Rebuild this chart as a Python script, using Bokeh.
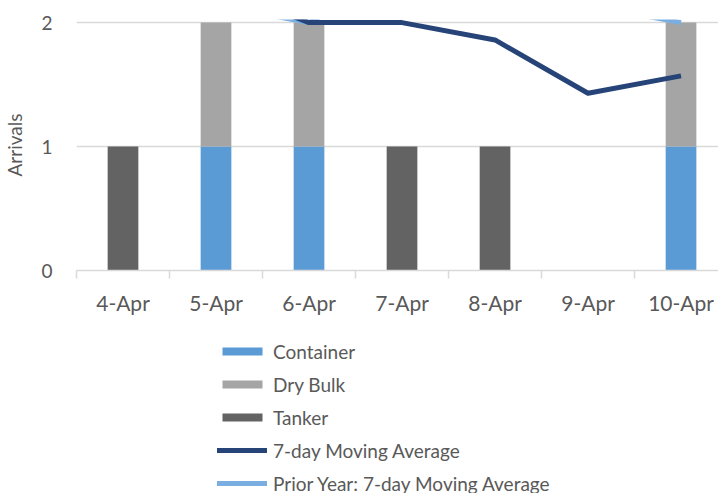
from bokeh.plotting import figure
from bokeh.layouts import column
from bokeh.models import Range1d, FixedTicker, Legend, LegendItem, ColumnDataSource
from bokeh.embed import file_html
from bokeh.resources import INLINE

dates = ["4-Apr", "5-Apr", "6-Apr", "7-Apr", "8-Apr", "9-Apr", "10-Apr"]
container = [0, 1, 1, 0, 0, 0, 1]
dry_bulk = [0, 1, 1, 0, 0, 0, 1]
tanker = [1, 0, 0, 1, 1, 0, 0]
moving_avg = [2.43, 2.29, 2.0, 2.0, 1.86, 1.43, 1.57]
prior_year = [2.29, 2.14, 2.0, 2.43, 2.43, 2.14, 2.0]

FONT = "Lato"
TXT = "#595959"
COLORS = ["#5b9bd5", "#a5a5a5", "#636363"]
MA_COLOR = "#264478"
PY_COLOR = "#7aaee0"

idx = list(range(len(dates)))
src = ColumnDataSource(dict(x=idx, Container=container, DryBulk=dry_bulk, Tanker=tanker,
                            ma=moving_avg, py=prior_year))

p = figure(frame_width=642, frame_height=251, x_range=Range1d(-0.5, 6.403), y_range=Range1d(0, 2.025),
           output_backend="svg", toolbar_location=None,
           min_border_left=69, min_border_right=0, min_border_top=19, min_border_bottom=60)
p.outline_line_color = None

p.vbar_stack(["Container", "DryBulk", "Tanker"], x="x", width=0.33, source=src,
             color=COLORS, line_color=None)
p.line("x", "py", source=src, line_color=PY_COLOR, line_width=5, line_join="round")
p.line("x", "ma", source=src, line_color=MA_COLOR, line_width=5, line_join="round")

# axes
p.xaxis.ticker = FixedTicker(ticks=idx, minor_ticks=[i - 0.5 for i in range(len(dates) + 1)])
p.xaxis.major_label_overrides = {i: d for i, d in enumerate(dates)}
p.xaxis.major_tick_line_color = None
p.xaxis.major_tick_out = 0
p.xaxis.major_tick_in = 0
p.xaxis.minor_tick_line_color = "#d9d9d9"
p.xaxis.minor_tick_line_width = 1.5
p.xaxis.minor_tick_out = 8
p.xaxis.minor_tick_in = 0
p.xaxis.axis_line_color = "#d9d9d9"
p.xaxis.axis_line_width = 1.5
p.xaxis.major_label_text_font = FONT
p.xaxis.major_label_text_font_size = "21px"
p.xaxis.major_label_text_color = TXT
p.xaxis.major_label_standoff = 11

p.yaxis.ticker = FixedTicker(ticks=[0, 1, 2])
p.yaxis.axis_line_color = None
p.yaxis.major_tick_line_color = None
p.yaxis.major_tick_out = 0
p.yaxis.major_tick_in = 0
p.yaxis.minor_tick_line_color = None
p.yaxis.major_label_standoff = 24
p.yaxis.major_label_text_font = FONT
p.yaxis.major_label_text_font_size = "19px"
p.yaxis.major_label_text_color = TXT
p.yaxis.axis_label = "Arrivals"
p.yaxis.axis_label_text_font = FONT
p.yaxis.axis_label_text_font_size = "19px"
p.yaxis.axis_label_text_font_style = "normal"
p.yaxis.axis_label_text_color = TXT
p.yaxis.axis_label_standoff = 12

p.xgrid.grid_line_color = None
p.ygrid.grid_line_color = "#d9d9d9"
p.ygrid.grid_line_width = 1.5

# legend panel (separate figure sharing the same data; its glyphs are out of view)
lg = figure(width=711, height=163, x_range=Range1d(100, 101), y_range=Range1d(100, 101),
            output_backend="svg", toolbar_location=None,
            x_axis_location=None, y_axis_location=None,
            min_border_left=0, min_border_right=0, min_border_top=0, min_border_bottom=0)
lg.outline_line_color = None
lg.grid.visible = False
lr = lg.vbar_stack(["Container", "DryBulk", "Tanker"], x="x", width=0.33, source=src,
                   color=COLORS, line_color=None)
ll2 = lg.line("x", "py", source=src, line_color=PY_COLOR, line_width=5, line_cap="round")
ll1 = lg.line("x", "ma", source=src, line_color=MA_COLOR, line_width=5, line_cap="round")

legend = Legend(items=[
    LegendItem(label="Container", renderers=[lr[0]]),
    LegendItem(label="Dry Bulk", renderers=[lr[1]]),
    LegendItem(label="Tanker", renderers=[lr[2]]),
    LegendItem(label="7-day Moving Average", renderers=[ll1]),
    LegendItem(label="Prior Year: 7-day Moving Average", renderers=[ll2]),
], location=(141, -2), orientation="vertical")
legend.glyph_width = 50
legend.glyph_height = 10
legend.label_height = 24
legend.spacing = 9
legend.padding = 0
legend.margin = 0
legend.label_standoff = 6
legend.border_line_color = None
legend.background_fill_alpha = 0
legend.label_text_font = FONT
legend.label_text_font_size = "19px"
legend.label_text_color = TXT
lg.add_layout(legend, "center")

open("out.html", "w").write(file_html(column(p, lg, spacing=0), INLINE))
